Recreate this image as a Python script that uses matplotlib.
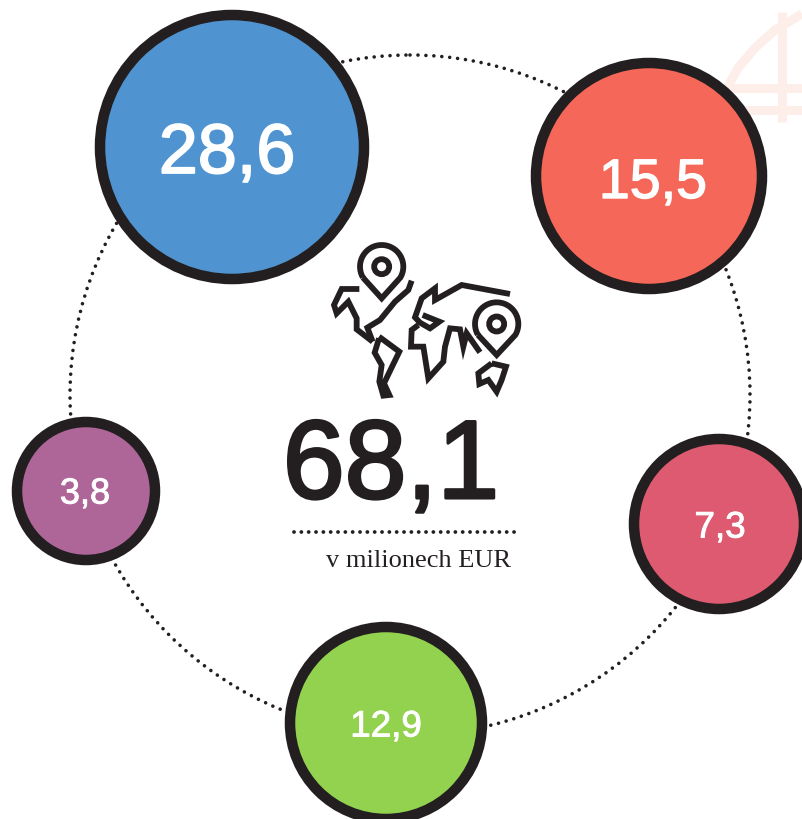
#! /usr/bin/env python

import numpy as np
import matplotlib
matplotlib.use('Agg')
import matplotlib.pyplot as plt
import matplotlib.patheffects as pe
from matplotlib.patches import Circle

values = ['28,6', '15,5', '7,3', '12,9', '3,8']
total = '68,1'
unit_label = 'v milionech EUR'

# bubble layout, in pixels of the picture
bubble_x = [232, 649, 719, 386, 86]
bubble_y = [147, 176, 524, 723, 491]
bubble_r = [132, 113, 85, 96, 69]
bubble_colors = ['#4f94d0', '#f56758', '#dd5a70', '#92d24f', '#ae6699']
label_x = [227, 653, 720, 386, 85]
label_y = [155, 184, 528, 727, 494]
label_sizes = [50.5, 40, 26.5, 26.5, 26]
dark = '#231f20'
PX = 0.72  # one pixel in points at dpi 100

fig = plt.figure(figsize=(8.02, 8.19), dpi=100)
ax = fig.add_axes([0, 0, 1, 1])
ax.set_xlim(0, 802)
ax.set_ylim(819, 0)
ax.axis('off')
ax.set_aspect('equal')

# faint watermark in the corner
wm = '#fdeee9'
wm_style = dict(color=wm, lw=9 * PX, solid_capstyle='butt')
ax.plot([727, 738, 755, 775, 802], [88, 68, 48, 30, 14], **wm_style)
ax.plot([782, 782], [12, 122], **wm_style)
ax.plot([727, 802], [88, 88], **wm_style)
ax.plot([745, 802], [110, 110], **wm_style)

# dotted ring
ring = Circle((410, 395), 340, fill=False, ec=dark, lw=3.6 * PX,
              linestyle=(0, (0.01, 2.2)), capstyle='round', zorder=1)
ax.add_patch(ring)

# dotted rule under the total
ax.plot([294, 517], [532, 532], color=dark, lw=3.8 * PX,
        linestyle=(0, (0.01, 1.92)), dash_capstyle='round', zorder=2)

for x, y, r, c in zip(bubble_x, bubble_y, bubble_r, bubble_colors):
    ax.add_patch(Circle((x, y), r, fc=c, ec=dark, lw=10.5 * PX, zorder=3))

for x, y, v, fs in zip(label_x, label_y, values, label_sizes):
    t = ax.text(x, y, v, color='white', fontsize=fs, ha='center', va='center',
                family='Liberation Sans', zorder=4)
    t.set_path_effects([pe.withStroke(linewidth=fs * 0.025, foreground='white')])

t = ax.text(391, 469, total, color=dark, fontsize=80, ha='center', va='center',
            family='Liberation Sans', zorder=4)
t.set_path_effects([pe.withStroke(linewidth=2.2, foreground=dark)])
ax.text(419, 561, unit_label, color=dark, fontsize=19, ha='center', va='center',
        family='Liberation Serif', zorder=4)


# icon, traced in 3x crop coordinates of the region starting at (300, 230)
def icon_line(points, closed=False):
    xs = [300 + p[0] / 3 for p in points]
    ys = [230 + p[1] / 3 for p in points]
    if closed:
        xs.append(xs[0])
        ys.append(ys[0])
    ax.plot(xs, ys, color=dark, lw=5.8 * PX, solid_joinstyle='miter', solid_capstyle='butt', zorder=2)


north_america = [(178, 177), (125, 177), (102, 225), (110, 250), (145, 215), (170, 265), (170, 298), (218, 335)]
north_east = [(335, 152), (325, 180), (285, 215), (240, 270), (202, 293), (218, 335)]
south_america = [(237, 320), (298, 365), (252, 460), (268, 495), (250, 497), (238, 455), (245, 405), (224, 368), (237, 325)]
eurasia = [(630, 192), (485, 165), (405, 210), (405, 175), (365, 205), (345, 262), (360, 278), (390, 295), (418, 275), (368, 255)]
africa = [(355, 285), (335, 300), (333, 350), (370, 350), (385, 445), (430, 395), (435, 350), (450, 295), (480, 298), (490, 350), (500, 310), (540, 367)]
australia = [(575, 400), (618, 410), (605, 450), (590, 485), (565, 450), (538, 462), (535, 430)]

for part in [north_america, north_east, south_america, eurasia, africa]:
    icon_line(part)
icon_line(australia, closed=True)

pins = [(245, 110, 205), (590, 282, 375)]
for cx, cy, tip in pins:
    ax.add_patch(Circle((300 + cx / 3, 230 + cy / 3), 7.5, fill=False, ec=dark, lw=5.8 * PX, zorder=2))
    # round head running down to the tip
    angles = np.radians(np.linspace(150, 390, 40))
    head = [(cx + 65 * np.cos(a), cy + 65 * np.sin(a)) for a in angles]
    icon_line(head + [(cx, tip)], closed=True)

fig.savefig('out.png', dpi=100)
